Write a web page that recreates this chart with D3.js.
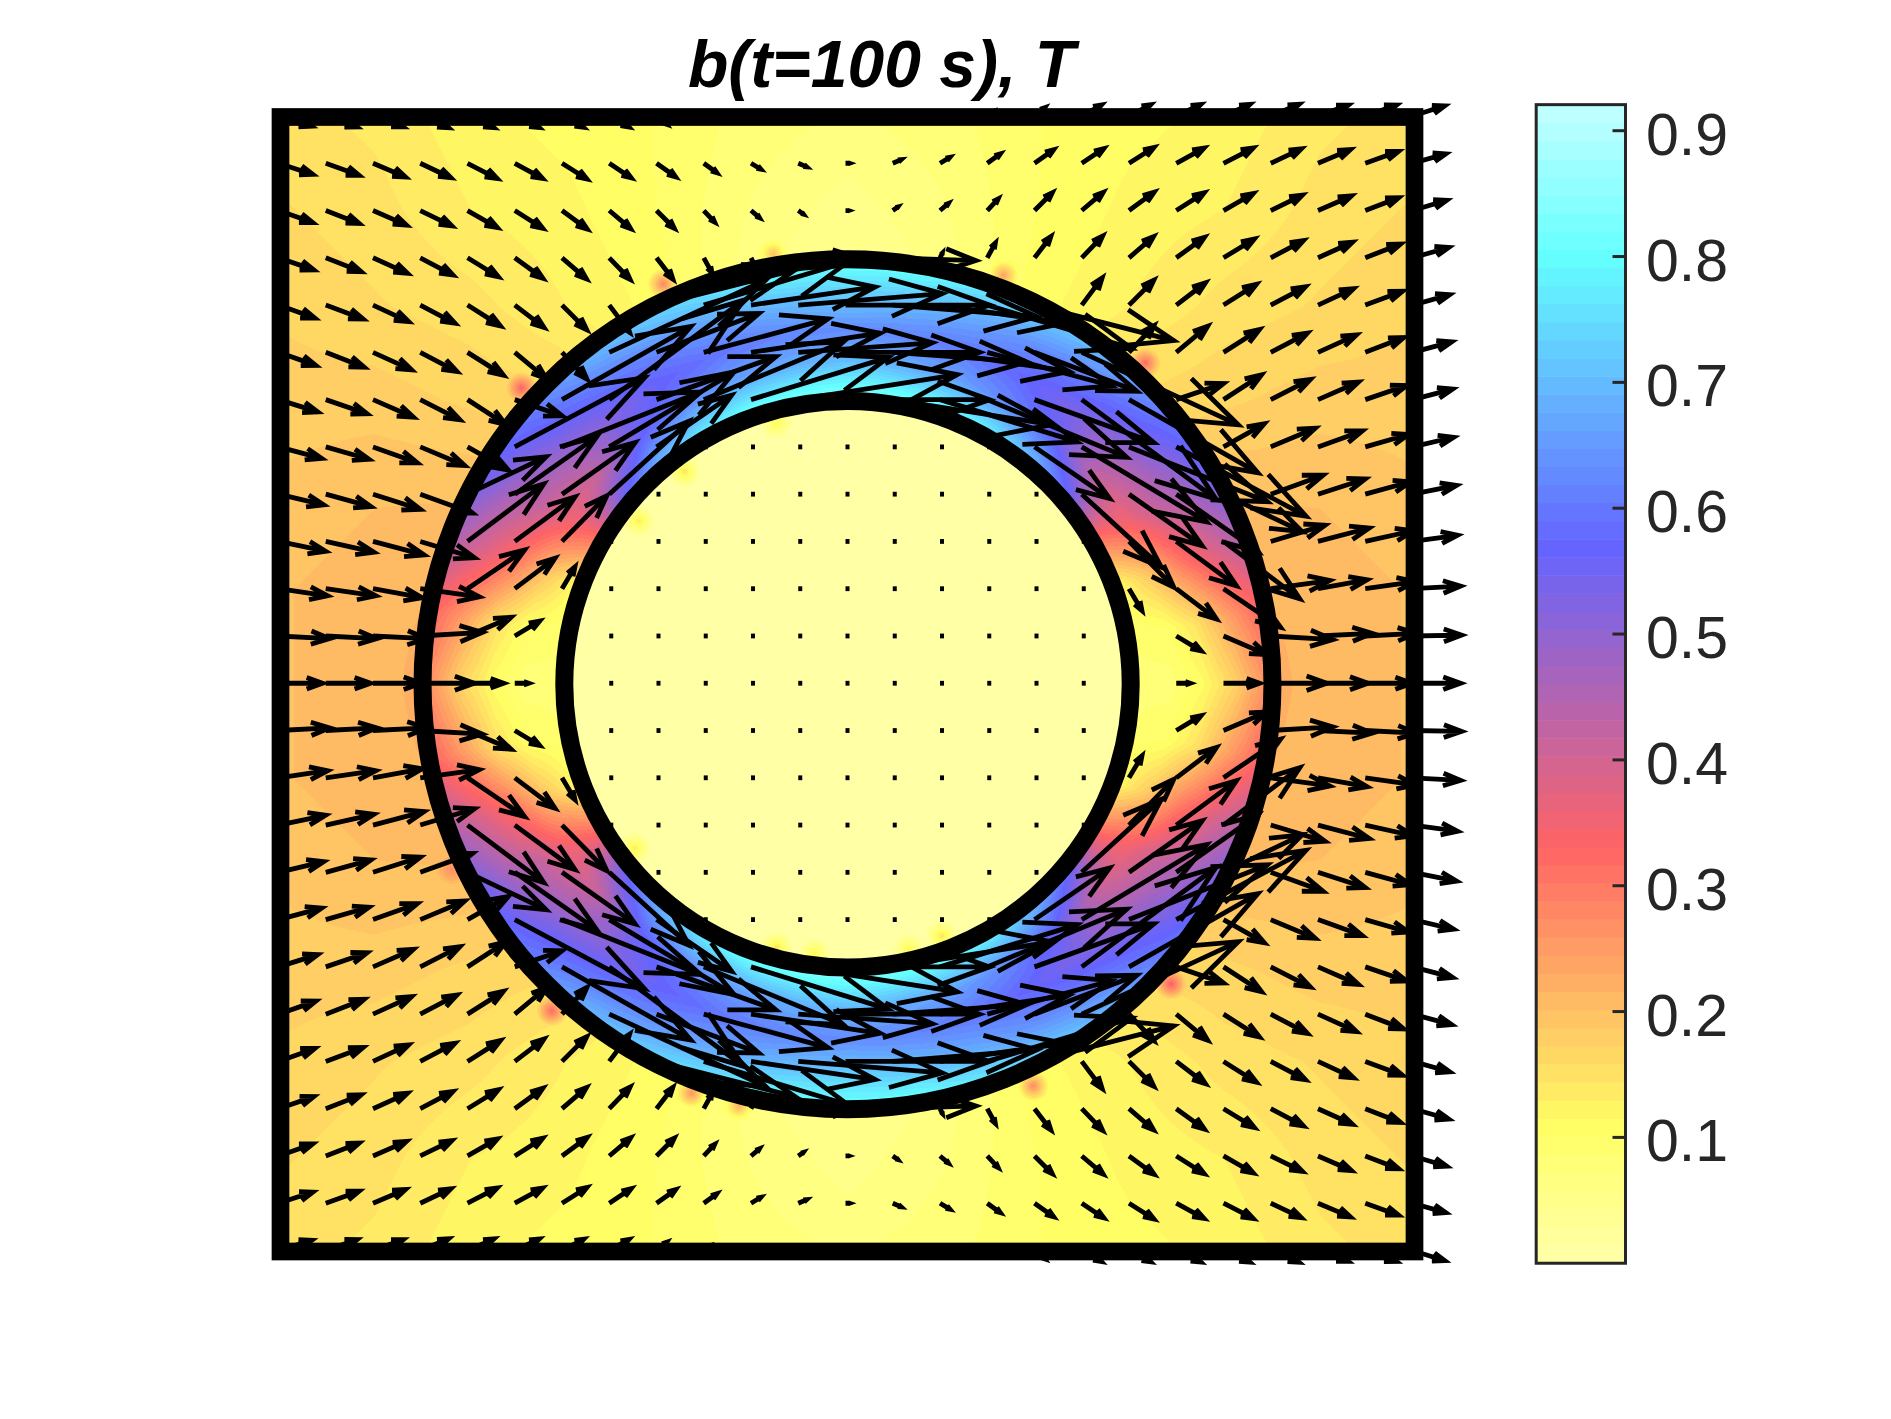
<!DOCTYPE html>
<html><head><meta charset="utf-8">
<style>html,body{margin:0;padding:0;background:#fff}svg{display:block}</style>
<script src="https://cdn.jsdelivr.net/npm/d3@7"></script>
</head><body><div id="chart"></div>
<script>
// flux density components on the 25x25 quiver grid, unit = 5 mT, rows from the top; by is positive upward
const bxRows=[
[39,37,36,34,32,30,27,25,15,10,6,3,2,3,6,10,15,25,27,30,32,34,36,37,38],
[40,39,38,36,35,33,30,27,24,18,15,14,10,14,15,18,24,27,30,33,35,36,38,39,39],
[40,39,39,37,35,33,30,26,22,15,13,10,9,10,13,15,22,26,30,33,35,37,39,39,40],
[41,41,40,38,36,33,29,25,20,11,5,60,40,89,5,11,20,25,29,33,36,38,40,41,42],
[42,43,41,40,38,34,29,24,145,150,130,150,150,150,130,150,145,24,29,34,38,40,41,43,43],
[43,44,44,42,41,36,29,162,108,130,135,140,140,140,135,130,108,162,29,36,41,42,44,44,45],
[45,47,46,45,43,53,134,139,125,145,143,165,150,165,143,145,125,139,134,53,43,45,46,47,46],
[49,49,50,50,46,135,144,130,80,0,0,0,0,0,0,0,80,130,144,135,46,50,50,49,47],
[51,51,53,58,84,87,78,84,0,0,0,0,0,0,0,0,0,84,78,87,84,58,53,51,50],
[53,54,57,60,81,65,49,0,0,0,0,0,0,0,0,0,0,0,49,65,81,60,57,54,51],
[55,56,55,65,62,45,16,0,0,0,0,0,0,0,0,0,0,0,16,45,62,65,55,56,54],
[57,57,60,68,49,30,0,0,0,0,0,0,0,0,0,0,0,0,0,30,49,68,60,57,55],
[50,51,54,60,42,20,0,0,0,0,0,0,0,0,0,0,0,0,0,20,42,62,56,53,54],
[57,57,60,68,49,30,0,0,0,0,0,0,0,0,0,0,0,0,0,30,49,68,60,57,55],
[55,56,55,65,62,45,16,0,0,0,0,0,0,0,0,0,0,0,16,45,62,65,55,56,54],
[53,54,57,60,81,65,49,0,0,0,0,0,0,0,0,0,0,0,49,65,81,60,57,54,51],
[51,51,53,58,84,87,78,84,0,0,0,0,0,0,0,0,0,84,78,87,84,58,53,51,50],
[49,49,50,50,46,135,144,130,80,0,0,0,0,0,0,0,80,130,144,135,46,50,50,49,47],
[45,47,46,45,43,53,134,139,125,145,143,165,150,165,143,145,125,139,134,53,43,45,46,47,46],
[43,44,44,42,41,36,29,162,108,130,135,140,140,140,135,130,108,162,29,36,41,42,44,44,45],
[42,43,41,40,38,34,29,24,145,150,130,150,150,150,130,150,145,24,29,34,38,40,41,43,43],
[41,41,40,38,36,33,29,25,20,11,5,60,40,89,5,11,20,25,29,33,36,38,40,41,42],
[40,39,39,37,35,33,30,26,22,15,13,10,9,10,13,15,22,26,30,33,35,37,39,39,40],
[40,39,38,36,35,33,30,27,24,18,15,14,10,14,15,18,24,27,30,33,35,36,38,39,39],
[39,37,36,34,32,30,27,25,15,10,6,3,2,3,6,10,15,25,27,30,32,34,36,37,38]];
const byRows=[
[-12,-13,-13,-14,-14,-14,-14,-14,-12,-8,-5,-2,0,2,5,8,12,14,14,14,14,14,13,13,12],
[-13,-14,-16,-17,-18,-18,-19,-18,-17,-13,-9,-6,0,6,9,13,17,18,19,18,18,17,16,14,11],
[-14,-15,-17,-18,-20,-21,-22,-22,-22,-16,-11,-7,0,7,11,16,22,22,22,21,20,18,17,15,12],
[-14,-16,-18,-20,-22,-24,-25,-26,-26,-20,-10,2,0,-3,10,20,26,26,25,24,22,20,18,16,12],
[-15,-16,-19,-21,-24,-26,-29,-32,37,45,19,12,0,-12,-19,-45,-37,32,29,26,24,21,19,16,12],
[-15,-17,-20,-22,-26,-30,-31,75,41,35,20,10,0,-10,-20,-35,-41,-75,31,30,26,22,20,17,12],
[-14,-16,-20,-23,-28,-18,76,103,45,60,44,26,0,-26,-44,-60,-45,-103,-76,18,28,23,20,16,12],
[-13,-14,-18,-21,-26,72,57,78,55,0,0,0,0,0,0,0,-55,-78,-57,-72,26,21,18,14,11],
[-12,-14,-17,-21,40,61,55,77,0,0,0,0,0,0,0,0,0,-77,-55,-61,-40,21,17,14,10],
[-11,-12,-15,-18,61,48,50,0,0,0,0,0,0,0,0,0,0,0,-50,-48,-61,18,15,12,7],
[-8,-8,-10,-9,42,34,27,0,0,0,0,0,0,0,0,0,0,0,-27,-34,-42,9,10,8,3],
[-3,-3,-3,4,21,18,0,0,0,0,0,0,0,0,0,0,0,0,0,-18,-21,-4,3,3,1],
[0,0,0,0,0,0,0,0,0,0,0,0,0,0,0,0,0,0,0,0,0,0,0,0,0],
[3,3,3,-4,-21,-18,0,0,0,0,0,0,0,0,0,0,0,0,0,18,21,4,-3,-3,-1],
[8,8,10,9,-42,-34,-27,0,0,0,0,0,0,0,0,0,0,0,27,34,42,-9,-10,-8,-3],
[11,12,15,18,-61,-48,-50,0,0,0,0,0,0,0,0,0,0,0,50,48,61,-18,-15,-12,-7],
[12,14,17,21,-40,-61,-55,-77,0,0,0,0,0,0,0,0,0,77,55,61,40,-21,-17,-14,-10],
[13,14,18,21,26,-72,-57,-78,-55,0,0,0,0,0,0,0,55,78,57,72,-26,-21,-18,-14,-11],
[14,16,20,23,28,18,-76,-103,-45,-60,-44,-26,0,26,44,60,45,103,76,-18,-28,-23,-20,-16,-12],
[15,17,20,22,26,30,31,-75,-41,-35,-20,-10,0,10,20,35,41,75,-31,-30,-26,-22,-20,-17,-12],
[15,16,19,21,24,26,29,32,-37,-45,-19,-12,0,12,19,45,37,-32,-29,-26,-24,-21,-19,-16,-12],
[14,16,18,20,22,24,25,26,26,20,10,-2,0,3,-10,-20,-26,-26,-25,-24,-22,-20,-18,-16,-12],
[14,15,17,18,20,21,22,22,22,16,11,7,0,-7,-11,-16,-22,-22,-22,-21,-20,-18,-17,-15,-12],
[13,14,16,17,18,18,19,18,17,13,9,6,0,-6,-9,-13,-17,-18,-19,-18,-18,-17,-16,-14,-11],
[12,13,13,14,14,14,14,14,12,8,5,2,0,-2,-5,-8,-12,-14,-14,-14,-14,-14,-13,-13,-12]];
// |b| outside the shell, hundredths of a tesla, every second grid node
const outerField=[
[15,14,12,11,10,8,7,8,10,11,12,14,15],
[16,15,13,12,10,7,5,7,10,12,13,15,16],
[17,16,15,13,11,6,3,6,11,13,15,16,17],
[18,18,17,16,13,7,4,7,13,16,17,18,18],
[19,20,20,19,15,7,4,7,15,19,20,20,19],
[20,21,22,22,15,7,4,7,15,22,22,21,20],
[20,21,23,23,15,7,4,7,15,23,23,21,20],
[20,21,22,22,15,7,4,7,15,22,22,21,20],
[19,20,20,19,15,7,4,7,15,19,20,20,19],
[18,18,17,16,13,7,4,7,13,16,17,18,18],
[17,16,15,13,11,6,3,6,11,13,15,16,17],
[16,15,13,12,10,7,5,7,10,12,13,15,16],
[15,14,12,11,10,8,7,8,10,11,12,14,15]];
// |b| inside the shell: one row per 10 degrees from +x, inner to outer wall
const shellField=[
[8,8,11,17,26],[9,10,15,24,32],[12,20,30,38,44],[31,35,42,47,55],[55,42,47,55,60],[68,56,53,60,68],[76,62,57,63,72],[80,66,60,67,76],[82,68,62,70,80],
[83,70,63,72,80],[82,68,62,70,80],[80,66,60,67,76],[76,62,57,63,72],[68,56,53,60,68],[55,42,47,55,60],[31,35,42,47,55],[12,20,30,38,44],[9,10,15,24,32],
[8,8,11,17,26],[9,10,15,24,32],[12,20,30,38,44],[31,35,42,47,55],[55,42,47,55,60],[68,56,53,60,68],[76,62,57,63,72],[80,66,60,67,76],[82,68,62,70,80],
[83,70,63,72,80],[82,68,62,70,80],[80,66,60,67,76],[76,62,57,63,72],[68,56,53,60,68],[55,42,47,55,60],[31,35,42,47,55],[12,20,30,38,44],[9,10,15,24,32]];
const shellRadii=[6.18,6.85,7.5,8.17,8.82];
const shellWalls=[6,9];
// small local peaks at mesh corners on the shell walls: x, y (domain units), |b| (hundredths)
const wallPeaks=[[-6.9,6.27,33],[-3.9,8.47,28],[6.3,6.8,32],[3.3,8.65,24],[6.85,-6.34,34],[3.93,-8.5,27],[-6.26,-6.91,32],[-3.3,-8.65,26],[-2.3,-8.92,22],[-8.37,-3.91,27],[-1.57,9.1,20],[-3.45,4.5,15],[-4.42,3.45,14],[-1.5,5.52,12],[-1.5,-5.56,15],[-0.7,-5.7,13],[-4.5,-3.47,14],[2,-5.33,15],[1.3,-5.6,12]];
const peakReach=0.33;
const insideField=1.2;
const colourStops=[0,0.11,0.33,0.57,0.80,0.9207];
const colourValues=["#ffffaa","#ffff64","#ff6464","#6464ff","#64ffff","#c4ffff"];
const barTicks=[0.1,0.2,0.3,0.4,0.5,0.6,0.7,0.8,0.9];
const chartTitle="b(t=100 s), T";

const W=1891,H=1419;
const x=d3.scaleLinear().domain([-12,12]).range([280.5,1414.5]);
const y=d3.scaleLinear().domain([12,-12]).range([117,1251.5]);
const quiverLen=d3.scaleLinear().domain([0,1]).range([0,1]);
const nGrid=d3.scaleLinear().domain([-12,12]).range([0,24]);
const col=d3.scaleLinear().domain(colourStops).range(colourValues).interpolate(d3.interpolateRgb);
const levels=64;
const lut=d3.range(levels).map(k=>col((k+.5)*0.9207/levels));
const quant=d3.scaleQuantize().domain([0,0.9207]).range(lut);
const rIdx=d3.scaleLinear().domain(shellRadii).range([0,1,2,3,4]).clamp(true);

function bil(t,a,b){const n=t.length-1,m=t[0].length-1;a=Math.max(0,Math.min(m,a));b=Math.max(0,Math.min(n,b));
 const a0=Math.min(m-1,Math.floor(a)),b0=Math.min(n-1,Math.floor(b)),f=a-a0,g=b-b0;
 return (t[b0][a0]*(1-f)+t[b0][a0+1]*f)*(1-g)+(t[b0+1][a0]*(1-f)+t[b0+1][a0+1]*f)*g;}
function field(dx,dy){
 const r=Math.hypot(dx,dy);let v;
 if(r<shellWalls[0]) v=insideField;
 else if(r<=shellWalls[1]){
  let th=Math.atan2(dy,dx)*180/Math.PI;if(th<0)th+=360;
  const a=th/10,a0=Math.floor(a)%36,a1=(a0+1)%36,f=a-Math.floor(a),ri=rIdx(r),r0=Math.min(3,Math.floor(ri)),g=ri-r0;
  const s0=shellField[a0][r0]*(1-g)+shellField[a0][r0+1]*g,s1=shellField[a1][r0]*(1-g)+shellField[a1][r0+1]*g;
  v=s0*(1-f)+s1*f;
 } else v=bil(outerField,nGrid(dx)/2,nGrid(-dy)/2);
 if(r<shellWalls[0]||r>shellWalls[1]){for(const p of wallPeaks){const d=Math.hypot(dx-p[0],dy-p[1]);if(d<peakReach){const inSameZone=(r<7.5)===(Math.hypot(p[0],p[1])<7.5);if(inSameZone)v=Math.max(v,p[2]*(1-d/peakReach)+v*(d/peakReach));}}}
 return v/100;
}
// paint the field
const px0=280,py0=117,pw=1135,ph=1135;
const cv=document.createElement('canvas');cv.width=pw;cv.height=ph;
const ctx=cv.getContext('2d');const img=ctx.createImageData(pw,ph);
const lutRgb=new Map(lut.map(c=>{const q=d3.rgb(c);return [c,[q.r,q.g,q.b]]}));
for(let j=0;j<ph;j++)for(let i=0;i<pw;i++){
 const c=lutRgb.get(quant(field(x.invert(px0+i+.5),y.invert(py0+j+.5)))),k=(j*pw+i)*4;
 img.data[k]=c[0];img.data[k+1]=c[1];img.data[k+2]=c[2];img.data[k+3]=255;}
ctx.putImageData(img,0,0);

const svg=d3.select('#chart').append('svg').attr('width',W).attr('height',H).attr('viewBox',[0,0,W,H]);
svg.append('image').attr('x',px0).attr('y',py0).attr('width',pw).attr('height',ph).attr('href',cv.toDataURL());

// shell walls and frame
const cx=x(0),cy=y(0),unit=x(1)-x(0);
svg.selectAll('circle.wall').data(shellWalls).join('circle').attr('class','wall')
 .attr('cx',cx).attr('cy',cy).attr('r',d=>d*unit-0.3).attr('fill','none').attr('stroke','#000').attr('stroke-width',18);
svg.append('rect').attr('x',x(-12)).attr('y',y(12)).attr('width',x(12)-x(-12)).attr('height',y(-12)-y(12))
 .attr('fill','none').attr('stroke','#000').attr('stroke-width',17.7);

// quiver
const nodes=[];
bxRows.forEach((row,j)=>row.forEach((u,i)=>nodes.push({i,j,u,v:byRows[j][i]})));
function arrowPath(d){
 const p=d3.path(),x0=x(d.i-12)-2,y0=y(12-d.j)-1;
 const u=quiverLen(d.u),v=-quiverLen(d.v),L=Math.hypot(u,v);
 if(L<1){p.moveTo(x0,y0);p.lineTo(x0+4,y0);return p.toString();}
 const T=Math.max(L-6,1)/L,ut=u*T,vt=v*T,a=.36,b=.36,tx=x0+ut,ty=y0+vt;
 p.moveTo(x0,y0);p.lineTo(tx,ty);
 p.moveTo(tx-a*(ut+b*vt),ty-a*(vt-b*ut));p.lineTo(tx,ty);p.lineTo(tx-a*(ut-b*vt),ty-a*(vt+b*ut));
 return p.toString();}
svg.append('g').attr('fill','none').attr('stroke','#000').attr('stroke-width',4.8).attr('stroke-miterlimit',10)
 .selectAll('path').data(nodes).join('path').attr('d',arrowPath);

// title
svg.append('text').attr('x',x(0)+34).attr('y',87).attr('text-anchor','middle')
 .attr('font-family','"Liberation Sans",Arial,sans-serif').attr('font-weight','bold').attr('font-style','italic')
 .attr('font-size',66).attr('fill','#000').text(chartTitle);

// colour bar
const barX0=1536.2,barX1=1625.5;
const barY=d3.scaleLinear().domain([0.1,0.9]).range([1137.4,130.7]);
const step=0.9207/levels;
svg.append('g').selectAll('rect').data(lut).join('rect').attr('x',barX0).attr('width',barX1-barX0)
 .attr('y',(d,k)=>barY((k+1)*step)).attr('height',(d,k)=>barY(k*step)-barY((k+1)*step)+.5).attr('fill',d=>d);
svg.append('rect').attr('x',barX0).attr('y',barY(0.9207)).attr('width',barX1-barX0).attr('height',barY(0)-barY(0.9207))
 .attr('fill','none').attr('stroke','#262626').attr('stroke-width',3);
const tk=svg.append('g').selectAll('g').data(barTicks).join('g').attr('transform',d=>`translate(0,${barY(d)})`);
tk.append('line').attr('x1',barX1-13).attr('x2',barX1).attr('stroke','#262626').attr('stroke-width',3);
tk.append('text').attr('x',1646).attr('y',24).attr('font-family','"Liberation Sans",Arial,sans-serif').attr('font-size',59).attr('fill','#262626').text(d=>d.toFixed(1));
</script></body></html>
